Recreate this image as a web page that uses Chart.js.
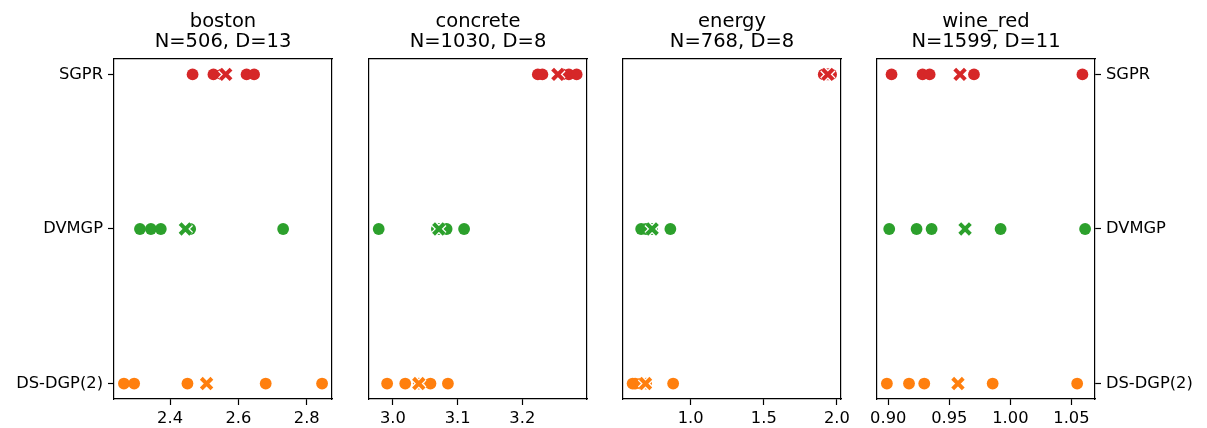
<!DOCTYPE html>
<html>
<head>
<meta charset="utf-8">
<script src="https://cdn.jsdelivr.net/npm/chart.js@4.4.0/dist/chart.umd.min.js"></script>
<style>
  html, body { margin: 0; padding: 0; background: #ffffff; }
  #wrap { position: relative; width: 1207px; height: 428px; }
  #wrap canvas { position: absolute; left: 0; top: 0; }
</style>
</head>
<body>
<div id="wrap">
  <canvas id="c0" width="1207" height="428"></canvas>
  <canvas id="c1" width="1207" height="428"></canvas>
  <canvas id="c2" width="1207" height="428"></canvas>
  <canvas id="c3" width="1207" height="428"></canvas>
</div>
<script>
// ---- data ----
const datasetNames = ['boston', 'concrete', 'energy', 'wine_red'];
const datasetInfo = ['N=506, D=13', 'N=1030, D=8', 'N=768, D=8', 'N=1599, D=11'];
// methods from bottom row to top row
const methods = ['DS-DGP(2)', 'DVMGP', 'SGPR'];

// individual runs (circles)
const bostonDSDGP   = [2.265, 2.295, 2.451, 2.680, 2.845];
const bostonDVMGP   = [2.312, 2.344, 2.373, 2.459, 2.731];
const bostonSGPR    = [2.466, 2.527, 2.552, 2.624, 2.646];
const concreteDSDGP = [2.991, 3.019, 3.040, 3.058, 3.085];
const concreteDVMGP = [2.978, 3.068, 3.072, 3.083, 3.110];
const concreteSGPR  = [3.224, 3.231, 3.262, 3.272, 3.284];
const energyDSDGP   = [0.603, 0.620, 0.660, 0.695, 0.880];
const energyDVMGP   = [0.661, 0.695, 0.720, 0.735, 0.861];
const energySGPR    = [1.910, 1.930, 1.940, 1.950, 1.960];
const wineDSDGP     = [0.8989, 0.9170, 0.9295, 0.9855, 1.0547];
const wineDVMGP     = [0.9008, 0.9232, 0.9355, 0.9920, 1.0612];
const wineSGPR      = [0.9027, 0.9281, 0.9339, 0.9702, 1.0590];

// means (crosses), order: DS-DGP(2), DVMGP, SGPR
const bostonMeans   = [2.507, 2.445, 2.563];
const concreteMeans = [3.040, 3.071, 3.255];
const energyMeans   = [0.691, 0.736, 1.938];
const wineMeans     = [0.9571, 0.9629, 0.9588];

// x-axis ticks and limits
const bostonTicks   = [2.4, 2.6, 2.8];
const concreteTicks = [3.0, 3.1, 3.2];
const energyTicks   = [1.0, 1.5, 2.0];
const wineTicks     = [0.90, 0.95, 1.00, 1.05];
const bostonRange   = [2.236, 2.874];
const concreteRange = [2.963, 3.300];
const energyRange   = [0.537, 2.028];
const wineRange     = [0.8908, 1.0693];

// ---- styling / layout ----
const methodColors = ['#ff7f0e', '#2ca02c', '#d62728'];
const FONT = 'DejaVu Sans';
const TICK_FS = 16.3;
const TITLE_FS = 19.5;
const W = 1207;
const panelBox = [[114, 332], [369, 587], [623, 841], [877, 1095]];

const panels = [
  { runs: [bostonDSDGP, bostonDVMGP, bostonSGPR], means: bostonMeans, ticks: bostonTicks, range: bostonRange, dec: 1 },
  { runs: [concreteDSDGP, concreteDVMGP, concreteSGPR], means: concreteMeans, ticks: concreteTicks, range: concreteRange, dec: 1 },
  { runs: [energyDSDGP, energyDVMGP, energySGPR], means: energyMeans, ticks: energyTicks, range: energyRange, dec: 1 },
  { runs: [wineDSDGP, wineDVMGP, wineSGPR], means: wineMeans, ticks: wineTicks, range: wineRange, dec: 2 }
];

Chart.defaults.font.family = FONT;
Chart.defaults.color = '#000000';

function zeroPad(scale) {
  scale.paddingLeft = 0; scale.paddingRight = 0;
  scale.paddingTop = 0; scale.paddingBottom = 0;
}

panels.forEach((p, i) => {
  const datasets = [];
  // colored crosses on top
  methods.forEach((m, k) => {
    datasets.push({
      label: m + ' mean',
      data: [{ x: p.means[k], y: k }],
      pointStyle: 'crossRot', pointRadius: 7.5, pointHoverRadius: 7.5,
      borderColor: methodColors[k], backgroundColor: methodColors[k],
      borderWidth: 4, order: 0
    });
  });
  // white outline of crosses
  methods.forEach((m, k) => {
    datasets.push({
      label: m + ' mean edge',
      data: [{ x: p.means[k], y: k }],
      pointStyle: 'crossRot', pointRadius: 7.5, pointHoverRadius: 7.5,
      borderColor: '#ffffff', backgroundColor: '#ffffff',
      borderWidth: 6.6, order: 1
    });
  });
  // circles
  methods.forEach((m, k) => {
    datasets.push({
      label: m,
      data: p.runs[k].map(v => ({ x: v, y: k })),
      pointStyle: 'circle', pointRadius: 5.9, pointHoverRadius: 5.9,
      borderWidth: 0, borderColor: methodColors[k], backgroundColor: methodColors[k],
      order: 2
    });
  });

  const leftSide = i === 0;
  const rightSide = i === panels.length - 1;
  const labelled = leftSide || rightSide;
  const tickList = p.ticks;
  // the labelled y axis gets the whole margin as its own width so its labels are not clipped
  const yAxisWidth = leftSide ? panelBox[i][0] : (rightSide ? W - panelBox[i][1] : 0);
  const padLeft = leftSide ? 0 : panelBox[i][0];
  const padRight = rightSide ? 0 : W - panelBox[i][1];

  new Chart(document.getElementById('c' + i), {
    type: 'scatter',
    data: { datasets },
    options: {
      responsive: false,
      animation: false,
      devicePixelRatio: 1,
      events: [],
      clip: false,
      layout: { padding: { left: padLeft, right: padRight, top: 11.3, bottom: 0 } },
      plugins: {
        legend: { display: false },
        tooltip: { enabled: false },
        title: {
          display: true,
          fullSize: false,
          text: [datasetNames[i], datasetInfo[i]],
          font: { family: FONT, size: TITLE_FS, weight: 'normal', lineHeight: 1.05 },
          color: '#000000',
          padding: { top: 0, bottom: 6.7 }
        }
      },
      scales: {
        x: {
          type: 'linear', position: 'bottom',
          min: p.range[0], max: p.range[1],
          afterBuildTicks: s => { s.ticks = tickList.map(v => ({ value: v })); },
          afterFit: s => { s.height = 29; zeroPad(s); },
          ticks: {
            callback: v => Number(v).toFixed(p.dec),
            font: { family: FONT, size: TICK_FS }, color: '#000000',
            padding: 4, maxRotation: 0, autoSkip: false
          },
          grid: { display: true, drawOnChartArea: false, drawTicks: true, tickLength: 6, tickColor: '#000000', tickWidth: 1.2, color: '#000000' },
          border: { display: true, color: '#000000', width: 1.2 }
        },
        xTop: {
          type: 'linear', position: 'top',
          min: p.range[0], max: p.range[1],
          afterFit: s => { s.height = 0; zeroPad(s); },
          ticks: { display: false },
          grid: { display: false, drawTicks: false },
          border: { display: true, color: '#000000', width: 1.2 }
        },
        y: {
          type: 'linear', position: rightSide ? 'right' : 'left',
          min: -0.1, max: 2.1,
          afterBuildTicks: s => { s.ticks = methods.map((m, k) => ({ value: k })); },
          afterFit: s => { s.width = yAxisWidth; zeroPad(s); },
          ticks: {
            display: labelled,
            callback: v => methods[v],
            font: { family: FONT, size: TICK_FS }, color: '#000000',
            padding: 5, autoSkip: false
          },
          grid: { display: labelled, drawOnChartArea: false, drawTicks: true, tickLength: 6, tickColor: '#000000', tickWidth: 1.2, color: '#000000' },
          border: { display: true, color: '#000000', width: 1.2 }
        },
        yOther: {
          type: 'linear', position: rightSide ? 'left' : 'right',
          min: -0.1, max: 2.1,
          afterFit: s => { s.width = 0; zeroPad(s); },
          ticks: { display: false },
          grid: { display: false, drawTicks: false },
          border: { display: true, color: '#000000', width: 1.2 }
        }
      }
    }
  });
});
</script>
</body>
</html>
